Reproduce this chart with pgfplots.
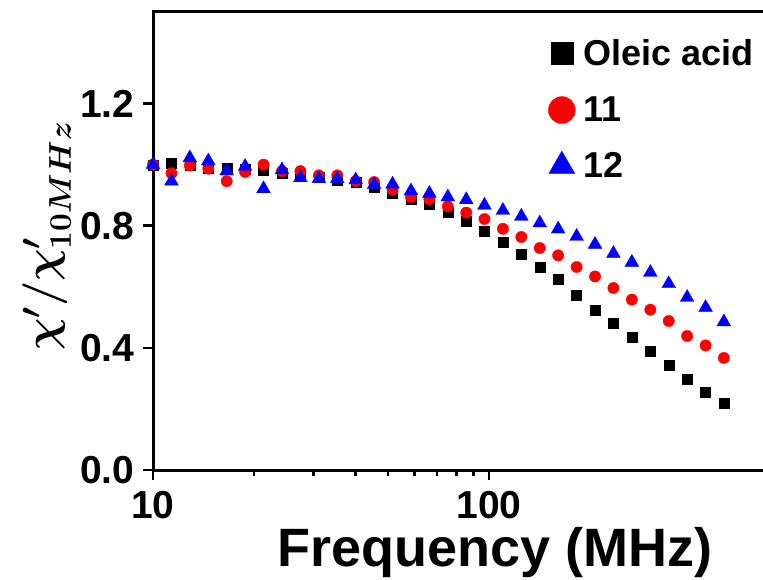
\RequirePackage{fix-cm}
\documentclass[border=0pt]{standalone}
\usepackage{pgfplots}
\usepackage{pgfplotstable}
\pgfplotsset{compat=1.18}
\usepackage{fontspec}
\setmainfont{Liberation Sans}
\pgfplotstableread{
f      sq     ci     tr
10.00  1.000  1.000  1.000
11.35  1.005  0.972  0.946
12.87  1.000  0.997  1.022
14.61  0.990  0.987  1.012
16.57  0.987  0.946  0.979
18.80  0.985  0.976  0.994
21.33  0.983  1.000  0.921
24.21  0.972  0.979  0.983
27.46  0.965  0.979  0.957
31.16  0.959  0.965  0.954
35.35  0.950  0.965  0.954
40.11  0.943  0.946  0.950
45.51  0.927  0.943  0.935
51.64  0.908  0.918  0.936
58.59  0.888  0.894  0.914
66.47  0.871  0.887  0.906
75.42  0.843  0.863  0.894
85.57  0.814  0.843  0.885
96.94  0.783  0.822  0.867
110.0  0.747  0.790  0.850
124.8  0.706  0.763  0.831
141.6  0.663  0.727  0.809
160.6  0.624  0.703  0.789
182.3  0.574  0.665  0.765
206.8  0.525  0.634  0.739
234.6  0.481  0.596  0.709
266.2  0.434  0.558  0.680
302.1  0.389  0.525  0.647
342.7  0.342  0.488  0.610
388.8  0.297  0.439  0.565
441.2  0.255  0.408  0.532
500.0  0.218  0.367  0.485
}\datatable
\begin{document}
\begin{tikzpicture}
\begin{axis}[
  scale only axis, width=672pt, height=458pt,
  xmode=log, xmin=10, xmax=1000, ymin=0, ymax=1.5,
  axis line style={line width=3pt},
  every tick/.style={line width=2.5pt, black},
  tick align=outside, tick pos=left,
  major tick length=10pt, minor tick length=6pt,
  xtick={10,100}, xticklabels={10,100},
  ytick={0,0.4,0.8,1.2},
  yticklabel style={xshift=-5pt, /pgf/number format/.cd, fixed, fixed zerofill, precision=1},
  xticklabel style={yshift=-8pt},
  /pgf/number format/assume math mode=true,
  ticklabel style={font=\fontsize{39}{44}\selectfont\bfseries},
  xlabel={Frequency (MHz)},
  xlabel style={font=\fontsize{54}{60}\selectfont\bfseries, at={(axis description cs:0.509,0)}, anchor=base, yshift=-96pt},
  ylabel={$\chi'/\chi'_{10MHz}$},
  ylabel style={font=\fontsize{45}{50}\selectfont\boldmath, at={(axis description cs:-0.1577,0.511)}, anchor=center},
  legend style={draw=none, fill=none, at={(axis description cs:0.588,0.944)}, anchor=north west,
    font=\fontsize{36}{40}\selectfont\bfseries, row sep=25.5pt, inner sep=0pt,
    /tikz/every odd column/.append style={column sep=6.5pt}},
  legend cell align=left,
]
\addplot[only marks, mark=square*, black, mark size=5pt, mark options={line width=0.3pt},
  legend image post style={mark size=11pt}] table[x=f, y=sq] {\datatable};
\addlegendentry{Oleic acid}
\addplot[only marks, mark=*, red, mark size=5.7pt, mark options={line width=0.3pt},
  legend image post style={mark size=13.5pt}] table[x=f, y=ci] {\datatable};
\addlegendentry{11}
\addplot[only marks, mark=triangle*, blue, mark size=8pt, mark options={line width=0.3pt},
  legend image post style={mark size=15pt}] table[x=f, y=tr] {\datatable};
\addlegendentry{12}
\coordinate (O) at (rel axis cs:0,0);
\end{axis}
\pgfresetboundingbox
\path[use as bounding box] (O) ++(-153pt,-109pt) rectangle ++(763pt,579pt);
\end{tikzpicture}
\end{document}
